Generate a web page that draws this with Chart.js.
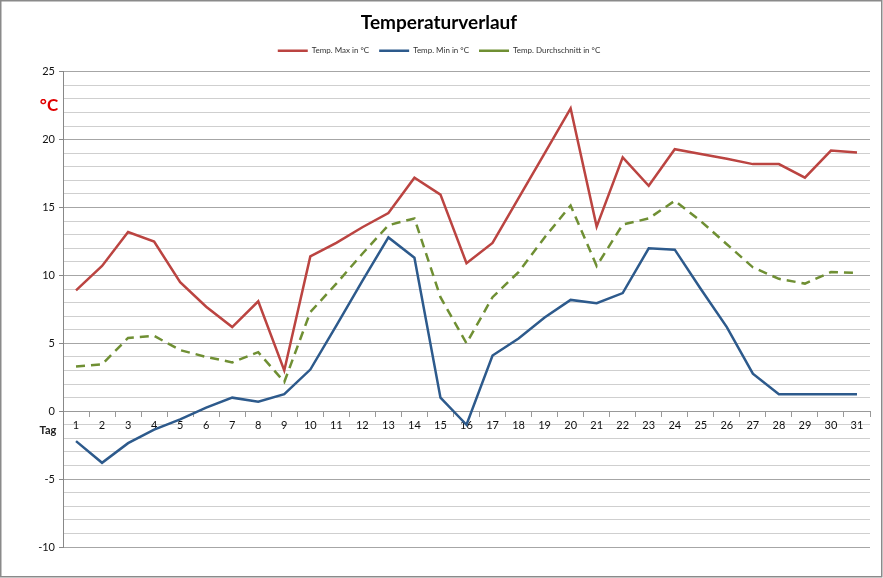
<!DOCTYPE html>
<html>
<head>
<meta charset="utf-8">
<script src="https://cdn.jsdelivr.net/npm/chart.js@4"></script>
<style>
  html, body { margin: 0; padding: 0; background: #fff; }
  #wrap { width: 883px; height: 578px; }
</style>
</head>
<body>
<div id="wrap"><canvas id="lineChart" width="883" height="578"></canvas></div>
<script>
var days = ["1","2","3","4","5","6","7","8","9","10","11","12","13","14","15","16",
  "17","18","19","20","21","22","23","24","25","26","27","28","29","30","31"];

var tempMax = [8.9, 10.7, 13.2, 12.5, 9.5, 7.7, 6.2, 8.1, 3.0, 11.4, 12.4, 13.55, 14.6, 17.2, 15.95, 10.9,
  12.4, 15.7, 19.0, 22.3, 13.6, 18.7, 16.6, 19.3, 18.95, 18.6, 18.2, 18.2, 17.2, 19.2, 19.05];

var tempMin = [-2.2, -3.8, -2.35, -1.35, -0.6, 0.27, 1.0, 0.7, 1.25, 3.07, 6.3, 9.6, 12.8, 11.3, 1.0, -1.0,
  4.1, 5.35, 6.9, 8.2, 7.96, 8.7, 12.0, 11.9, 9.0, 6.2, 2.77, 1.25, 1.25, 1.25, 1.25];

var tempAvg = [3.3, 3.45, 5.4, 5.55, 4.5, 4.0, 3.6, 4.35, 2.15, 7.3, 9.4, 11.6, 13.7, 14.2, 8.4, 5.0,
  8.4, 10.25, 12.8, 15.15, 10.7, 13.75, 14.2, 15.5, 14.0, 12.3, 10.6, 9.75, 9.4, 10.25, 10.2];

var yMin = -10, yMax = 25, yMajor = 5;

var font = "Lato, 'Open Sans', sans-serif";

// extra labels and the outer frame
var extras = {
  id: "extras",
  afterDraw: function (chart) {
    var c = chart.ctx;
    var y = chart.scales.y;
    c.save();
    c.fillStyle = "#e00000";
    c.font = "bold 17px " + font;
    c.textAlign = "center";
    c.textBaseline = "middle";
    c.fillText("°C", 49, y.getPixelForValue(22.5));
    c.fillStyle = "#222";
    c.font = "bold 11px " + font;
    c.fillText("Tag", 48, y.getPixelForValue(-1.45));
    c.strokeStyle = "#8a8a8a";
    c.lineWidth = 1.5;
    c.strokeRect(0.75, 0.75, chart.width - 2, chart.height - 2);
    c.restore();
  }
};

var ctx = document.getElementById("lineChart").getContext("2d");
var myChart = new Chart(ctx, {
  type: "line",
  data: {
    labels: days,
    datasets: [
      {
        label: "Temp. Max in °C",
        data: tempMax,
        borderColor: "#BB4441",
        backgroundColor: "#BB4441",
        borderWidth: 2.5,
        pointRadius: 0,
        tension: 0,
      },
      {
        label: "Temp. Min in °C",
        data: tempMin,
        borderColor: "#2D5A8C",
        backgroundColor: "#2D5A8C",
        borderWidth: 2.5,
        pointRadius: 0,
        tension: 0,
      },
      {
        label: "Temp. Durchschnitt in °C",
        data: tempAvg,
        borderColor: "#6F8F33",
        backgroundColor: "#6F8F33",
        borderWidth: 2.5,
        borderDash: [9, 6],
        pointRadius: 0,
        tension: 0,
      },
    ],
  },
  options: {
    responsive: false,
    animation: false,
    layout: { padding: { left: 8, right: 13, top: 0, bottom: 31 } },
    plugins: {
      title: {
        display: true,
        text: "Temperaturverlauf",
        color: "#000",
        font: { family: font, size: 19, weight: "bold" },
        padding: { top: 11, bottom: 3 },
      },
      legend: {
        labels: {
          color: "#333",
          font: { family: font, size: 8 },
          usePointStyle: true,
          pointStyle: "line",
          pointStyleWidth: 30,
          boxHeight: 6,
          padding: 10,
        },
      },
      tooltip: { enabled: false },
    },
    scales: {
      x: {
        position: { y: 0 },
        offset: true,
        grid: {
          offset: true,
          drawOnChartArea: false,
          tickLength: 5,
          color: "#999",
        },
        border: { color: "#999" },
        ticks: {
          color: "#111",
          font: { family: font, size: 11 },
          padding: 3,
          maxRotation: 0,
          autoSkip: false,
        },
      },
      y: {
        min: yMin,
        max: yMax,
        afterFit: function (scale) { scale.width = 55; },
        grid: {
          color: function (c) { return c.tick && c.tick.value % yMajor === 0 ? "#a6a6a6" : "#cfcfcf"; },
          tickColor: function (c) { return c.tick && c.tick.value % yMajor === 0 ? "#888" : "rgba(0,0,0,0)"; },
          tickLength: 4,
        },
        border: { color: "#888" },
        ticks: {
          stepSize: 1,
          autoSkip: false,
          color: "#111",
          font: { family: font, size: 11 },
          padding: 4,
          callback: function (v) { return v % yMajor === 0 ? v : ""; },
        },
      },
    },
  },
  plugins: [extras],
});

// a bit more room under the legend
var legendFit = myChart.legend.fit;
myChart.legend.fit = function () {
  legendFit.call(this);
  this.height += 7;
};
myChart.update();
</script>
</body>
</html>
